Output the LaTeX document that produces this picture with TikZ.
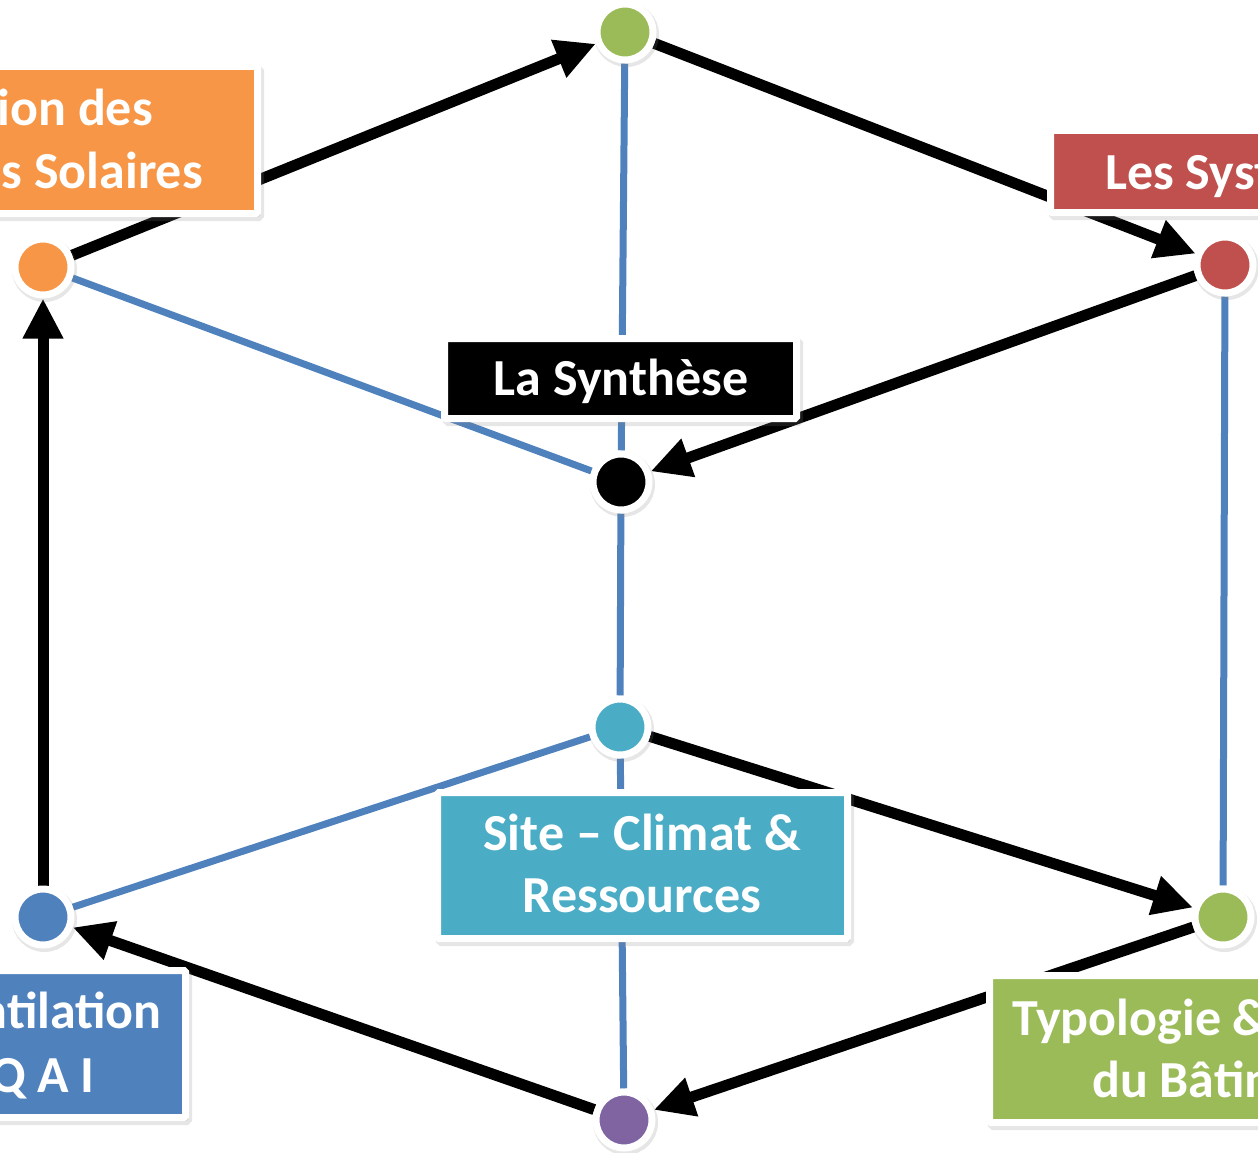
\documentclass[tikz,border=0pt]{standalone}
\usepackage{fontspec}
\setmainfont{Carlito}
\usetikzlibrary{arrows.meta,backgrounds,shadows}

\definecolor{offblue}{HTML}{4F81BD}
\definecolor{offorange}{HTML}{F79646}
\definecolor{offred}{HTML}{C0504D}
\definecolor{offgreen}{HTML}{9BBB59}
\definecolor{offaqua}{HTML}{4BACC6}
\definecolor{offpurple}{HTML}{8064A2}

\tikzset{
  dot/.style={circle, fill=#1, draw=white, line width=7pt, minimum size=56pt,
    inner sep=0pt, drop shadow={shadow xshift=1.5pt, shadow yshift=-2.5pt,
      opacity=0.2, draw=black!50, line width=9pt}},
  theme/.style={rectangle, fill=#1, draw=white, line width=7pt, rounded corners=1.5pt,
    inner sep=0pt, drop shadow={shadow xshift=2.5pt, shadow yshift=-3.5pt,
      opacity=0.2, draw=black!50, line width=8pt}},
  boxtext/.style={text=white, font=\bfseries\fontsize{52}{62}\selectfont, inner sep=0pt},
  flow/.style={line width=11pt, -{Triangle[length=40pt,width=38pt]}},
  link/.style={offblue, line width=7pt},
}

\begin{document}
\begin{tikzpicture}[x=1pt, y=-1pt]
    \path[use as bounding box] (0,0) rectangle (1258,1153);
    \clip (0,0) rectangle (1258,1153);

    % Theme boxes (the outer ones run off the frame)
    \node[theme=offorange, minimum width=507.5pt, minimum height=147pt] (sunbox) at (3.75,140) {};
    \node[theme=offred, minimum width=453pt, minimum height=82pt] (sysbox) at (1277,171.5) {};
    \node[theme=black, minimum width=352pt, minimum height=80pt] (synbox) at (620.5,378.5) {};
    \node[theme=offaqua, minimum width=410pt, minimum height=146pt] (sitebox) at (642.5,865.5) {};
    \node[theme=offblue, minimum width=485.5pt, minimum height=147pt] (airbox) at (-57.25,1044) {};
    \node[theme=offgreen, minimum width=510.5pt, minimum height=147pt] (batbox) at (1244.75,1049) {};

    % Box texts
    \node[boxtext, anchor=base east] (sun-a) at (153,125) {ion des};
    \node[boxtext, anchor=base east] (sun-b) at (203,188) {s Solaires};
    \node[boxtext, anchor=base west] (sys-a) at (1105,189) {Les Syst};
    \node[boxtext, anchor=base] (syn-a) at (621,395) {La Synthèse};
    \node[boxtext, anchor=base] (site-a) at (642,850) {Site – Climat \&};
    \node[boxtext, anchor=base] (site-b) at (642,912) {Ressources};
    \node[boxtext, anchor=base east] (air-a) at (162,1028) {ntilation};
    \node[boxtext, anchor=base east] (air-b) at (95,1092) {Q A I};
    \node[boxtext, anchor=base west] (bat-a) at (1012,1035) {Typologie \&};
    \node[boxtext, anchor=base west] (bat-b) at (1092,1097) {du Bâtim};

    % Corners of the cube
    \node[dot=offgreen] (top) at (625,32) {};
    \node[dot=offorange] (sun) at (43,267) {};
    \node[dot=offred] (sys) at (1225,265) {};
    \node[dot=black] (syn) at (621,482) {};
    \node[dot=offaqua] (site) at (620,727) {};
    \node[dot=offblue] (air) at (43,917) {};
    \node[dot=offgreen] (bat) at (1223,917) {};
    \node[dot=offpurple] (bottom) at (624,1120) {};

    \begin{scope}[on background layer]
        % Blue edges
        \draw[link] (top) -- (syn);
        \draw[link] (sun) -- (syn);
        \draw[link] (sys) -- (bat);
        \draw[link] (syn) -- (site);
        \draw[link] (site) -- (air);
        \draw[link] (site) -- (bottom);
        % Black cycle of arrows
        \draw[flow] (sun) -- (top);
        \draw[flow] (top) -- (sys);
        \draw[flow] (sys) -- (syn);
        \draw[flow] (site) -- (bat);
        \draw[flow] (bat) -- (bottom);
        \draw[flow] (bottom) -- (air);
        \draw[flow] (air) -- (sun);
    \end{scope}
\end{tikzpicture}
\end{document}
